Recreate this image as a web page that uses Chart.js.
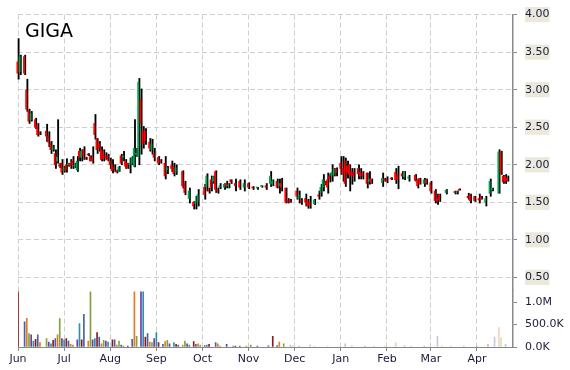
<!DOCTYPE html>
<html>
<head>
<meta charset="utf-8">
<script src="https://cdn.jsdelivr.net/npm/chart.js@4/dist/chart.umd.min.js"></script>
<style>
  html, body { margin: 0; padding: 0; background: #fff; }
  #wrap { position: relative; width: 570px; height: 370px; }
  #title { position: absolute; left: 25px; top: 21px; font: 19px/19px "DejaVu Sans", sans-serif; color: #000; }
</style>
</head>
<body>
<div id="wrap">
  <canvas id="chart" width="570" height="370"></canvas>
  <div id="title">GIGA</div>
</div>
<script>
// trading-day index where each month starts, and its label
const monthStart = [0, 21, 42, 63, 84, 105, 126, 147, 168, 188, 209];
const monthLabels = ['Jun', 'Jul', 'Aug', 'Sep', 'Oct', 'Nov', 'Dec', 'Jan', 'Feb', 'Mar', 'Apr'];
const priceTicks = [0.5, 1, 1.5, 2, 2.5, 3, 3.5, 4];
const volumeTicks = [0, 500000, 1000000];

// daily candles (day index, open, high, low, close)
const day = [0,1,3,4,5,6,8,9,10,13,14,15,16,17,18,19,20,21,22,23,24,25,26,27,28,29,30,31,32,33,34,35,36,37,38,39,40,41,
  42,43,44,45,46,47,48,49,50,51,52,53,54,55,56,57,58,60,61,62,64,65,67,68,70,71,72,75,76,78,80,81,82,85,86,87,88,89,90,
  91,92,94,95,96,97,99,101,103,105,107,109,111,113,115,116,118,119,120,122,123,124,127,128,129,131,132,133,135,137,138,
  139,140,141,142,143,144,145,147,148,149,150,151,152,153,155,156,157,159,160,161,166,167,168,170,172,173,175,176,178,
  181,182,183,185,186,188,190,191,192,195,199,200,201,205,206,208,210,211,213,215,216,219,220,221,222,223];
const open = [3.37,3.24,3.44,3.00,2.72,2.60,2.60,2.52,2.43,2.45,2.38,2.28,2.20,2.15,2.05,2.00,2.02,1.92,2.00,2.00,2.02,2.05,1.98,1.93,2.18,2.10,2.20,2.09,2.14,2.11,2.10,2.55,2.35,2.28,2.20,2.18,2.12,2.12,
  2.05,2.00,1.96,1.92,1.91,2.12,2.10,2.05,2.02,2.00,2.02,1.98,2.14,2.11,2.87,2.45,2.45,2.30,2.20,2.15,2.10,2.05,2.02,1.93,1.99,1.98,1.90,1.91,1.75,1.55,1.50,1.48,1.50,1.70,1.70,1.67,1.80,1.78,1.91,
  1.67,1.70,1.70,1.75,1.72,1.80,1.75,1.78,1.70,1.75,1.70,1.69,1.71,1.72,1.75,1.74,1.78,1.72,1.75,1.69,1.52,1.53,1.65,1.55,1.52,1.55,1.52,1.50,1.48,1.60,1.63,
  1.70,1.76,1.80,1.85,1.85,1.87,1.94,2.02,1.95,2.05,1.98,2.00,1.91,1.90,1.95,1.90,1.88,1.89,1.78,1.81,1.76,1.81,1.80,1.82,1.90,1.87,1.88,1.84,1.82,
  1.86,1.80,1.82,1.75,1.80,1.76,1.65,1.55,1.60,1.63,1.64,1.63,1.67,1.58,1.60,1.58,1.55,1.57,1.50,1.62,1.67,1.62,2.17,1.85,1.85,1.82];
const high = [3.68,3.46,3.46,3.14,2.74,2.71,2.62,2.55,2.44,2.54,2.44,2.31,2.26,2.20,2.60,2.02,2.07,1.98,2.08,2.02,2.07,2.11,2.02,2.11,2.22,2.20,2.24,2.10,2.15,2.12,2.24,2.67,2.35,2.31,2.24,2.20,2.16,2.14,
  2.09,2.07,2.00,1.93,1.98,2.14,2.18,2.07,2.02,2.09,2.11,2.60,2.22,3.15,3.01,2.51,2.48,2.35,2.34,2.22,2.11,2.07,2.11,1.98,2.05,2.02,2.00,1.92,1.78,1.69,1.51,1.58,1.67,1.74,1.88,1.69,1.85,1.85,1.92,
  1.69,1.75,1.75,1.78,1.75,1.80,1.81,1.80,1.80,1.76,1.71,1.70,1.72,1.75,1.91,1.80,1.81,1.81,1.82,1.69,1.55,1.54,1.69,1.65,1.55,1.61,1.54,1.58,1.54,1.65,1.74,
  1.87,1.78,1.89,1.88,2.00,1.95,1.96,2.11,2.11,2.09,2.05,2.00,1.95,1.95,2.00,1.95,1.91,1.89,1.91,1.81,1.89,1.82,1.84,1.83,1.95,1.98,1.91,1.91,1.86,
  1.87,1.81,1.82,1.82,1.81,1.78,1.67,1.61,1.61,1.67,1.65,1.65,1.68,1.62,1.61,1.58,1.61,1.58,1.58,1.81,1.69,2.20,2.18,1.86,1.87,1.85];
const low = [3.14,3.20,3.20,2.71,2.55,2.58,2.48,2.38,2.40,2.31,2.24,2.15,2.18,1.95,2.02,1.96,1.87,1.90,1.90,1.98,1.95,1.95,1.96,1.91,2.05,2.05,2.07,2.07,2.12,2.05,2.02,2.34,2.15,2.18,2.05,2.05,2.07,2.05,
  1.95,1.89,1.91,1.89,1.91,2.00,2.05,1.95,1.95,1.89,2.00,1.97,2.11,2.00,2.14,2.22,2.27,2.18,2.14,2.05,2.00,2.02,1.81,1.88,1.91,1.85,1.87,1.69,1.60,1.49,1.41,1.41,1.45,1.54,1.65,1.62,1.65,1.75,1.63,
  1.62,1.68,1.67,1.69,1.69,1.75,1.65,1.67,1.65,1.68,1.67,1.67,1.70,1.67,1.71,1.72,1.69,1.62,1.65,1.49,1.49,1.50,1.54,1.49,1.47,1.45,1.42,1.42,1.47,1.54,1.58,
  1.65,1.73,1.62,1.77,1.78,1.85,1.85,1.87,1.78,1.71,1.82,1.65,1.74,1.78,1.81,1.81,1.81,1.69,1.74,1.75,1.71,1.78,1.76,1.80,1.75,1.68,1.81,1.80,1.78,
  1.78,1.69,1.74,1.71,1.74,1.62,1.49,1.47,1.51,1.61,1.61,1.61,1.66,1.54,1.49,1.51,1.49,1.54,1.45,1.58,1.65,1.62,1.87,1.75,1.75,1.78];
const close = [3.22,3.44,3.22,2.74,2.58,2.68,2.50,2.40,2.41,2.38,2.30,2.20,2.24,2.00,2.10,1.98,1.90,1.96,1.93,2.00,1.98,2.00,2.00,2.05,2.10,2.18,2.12,2.08,2.13,2.05,2.05,2.40,2.20,2.22,2.07,2.08,2.10,2.06,
  2.00,1.92,1.95,1.90,1.97,2.02,2.12,1.98,1.96,2.02,2.10,2.22,2.15,3.10,2.55,2.28,2.32,2.22,2.28,2.10,2.02,2.04,1.85,1.96,1.95,1.88,1.96,1.72,1.63,1.65,1.45,1.50,1.60,1.60,1.85,1.65,1.70,1.84,1.67,
  1.65,1.72,1.74,1.72,1.73,1.77,1.72,1.70,1.75,1.70,1.69,1.69,1.71,1.70,1.85,1.78,1.70,1.75,1.70,1.50,1.50,1.51,1.58,1.60,1.50,1.50,1.45,1.46,1.53,1.58,1.70,
  1.80,1.74,1.70,1.80,1.90,1.94,1.90,1.95,1.88,1.75,1.90,1.87,1.85,1.85,1.88,1.85,1.85,1.75,1.81,1.76,1.82,1.79,1.78,1.81,1.80,1.80,1.85,1.90,1.84,
  1.79,1.72,1.75,1.80,1.76,1.65,1.52,1.52,1.53,1.66,1.63,1.64,1.66,1.56,1.52,1.52,1.53,1.55,1.55,1.78,1.68,2.17,1.88,1.77,1.78,1.79];

// daily volume (day index, shares)
const volDay = [0,3,4,5,6,7,8,9,10,13,14,15,16,17,18,19,20,21,22,23,24,25,27,28,29,30,32,33,34,35,36,37,38,39,40,41,43,44,45,46,47,48,50,
  52,53,54,56,57,58,59,60,61,62,63,64,66,67,68,69,71,72,73,75,76,77,78,80,81,82,83,85,86,87,90,91,92,95,98,99,101,104,106,109,114,116,118,119,121,
  124,125,128,133,135,141,149,152,158,162,167,172,176,179,185,191,193,197,203,209,214,217,219,220,222];
const volume = [1230000,560000,640000,300000,270000,130000,170000,270000,100000,190000,110000,70000,150000,190000,270000,630000,190000,160000,190000,130000,60000,40000,160000,520000,160000,730000,130000,1230000,160000,190000,320000,220000,70000,150000,130000,110000,160000,160000,40000,130000,40000,20000,20000,
  170000,1230000,240000,1230000,1230000,220000,300000,110000,100000,190000,320000,100000,60000,120000,150000,70000,100000,60000,40000,40000,130000,70000,40000,120000,60000,70000,40000,30000,40000,60000,100000,70000,20000,60000,20000,20000,20000,20000,40000,20000,30000,240000,30000,110000,70000,
  40000,30000,20000,40000,20000,20000,70000,30000,20000,20000,20000,100000,30000,20000,20000,240000,20000,20000,20000,20000,60000,220000,430000,210000,60000];

const UP = '#00a650', DOWN = '#ff0000';
const volPalette = ['#8b1a1a', '#4b5fa5', '#e07b1f', '#7ea23c', '#6b3fa0', '#2f8fae'];
const fadeFrom = 122;

const tickFont = { family: 'DejaVu Sans', size: 11 };
const tickColor = '#1a1a3c';
const axisGray = '#888888';
const gridGray = '#cfcfcf';

new Chart(document.getElementById('chart'), {
  type: 'bar',
  data: {
    datasets: [
      {
        label: 'range',
        data: day.map((d, i) => ({ x: d, y: [low[i], high[i]] })),
        backgroundColor: '#000',
        barThickness: 1.2,
        yAxisID: 'y',
        order: 1,
        clip: false
      },
      {
        label: 'body',
        data: day.map((d, i) => ({ x: d, y: [open[i], close[i]] })),
        backgroundColor: ctx => close[ctx.dataIndex] >= open[ctx.dataIndex] ? UP : DOWN,
        barThickness: 1.2,
        minBarLength: 1,
        yAxisID: 'y',
        order: 0,
        clip: false
      },
      {
        label: 'volume',
        data: volDay.map((d, i) => ({ x: d, y: volume[i] })),
        backgroundColor: ctx => {
          const c = volPalette[ctx.dataIndex % volPalette.length];
          return volDay[ctx.dataIndex] >= fadeFrom ? c + '55' : c;
        },
        barThickness: 1,
        grouped: false,
        yAxisID: 'vol',
        order: 2
      }
    ]
  },
  options: {
    responsive: false,
    animation: false,
    layout: { padding: { left: 18, top: 13, right: 0, bottom: 0 } },
    plugins: { legend: { display: false }, tooltip: { enabled: false } },
    scales: {
      y: {
        type: 'linear',
        position: 'right',
        stack: 'pv',
        stackWeight: 276.75,
        weight: 0,
        min: 0.32,
        max: 4,
        afterBuildTicks: s => { s.ticks = priceTicks.map(v => ({ value: v })); },
        afterFit: s => { s.width = 57; },
        ticks: {
          callback: v => Number(v).toFixed(2),
          autoSkip: false,
          font: tickFont,
          color: tickColor,
          padding: 8,
          showLabelBackdrop: true,
          backdropColor: '#ebe9dc',
          backdropPadding: { top: 1, bottom: 1, left: 0, right: 0 }
        },
        grid: { color: gridGray, tickColor: axisGray, tickLength: 4 },
        border: { color: axisGray, width: 1.5, dash: [5, 3] }
      },
      vol: {
        type: 'linear',
        position: 'right',
        stack: 'pv',
        stackWeight: 56.25,
        weight: 1,
        min: 0,
        max: 1250000,
        afterBuildTicks: s => { s.ticks = volumeTicks.map(v => ({ value: v })); },
        afterFit: s => { s.width = 57; },
        ticks: {
          callback: v => v >= 1000000 ? (v / 1000000).toFixed(1) + 'M' : (v / 1000).toFixed(1) + 'K',
          autoSkip: false,
          font: tickFont,
          color: tickColor,
          padding: 8
        },
        grid: { drawOnChartArea: false, tickColor: axisGray, tickLength: 4 },
        border: { color: axisGray, width: 1.5 }
      },
      x: {
        type: 'linear',
        min: 0,
        max: 225.4,
        offset: false,
        afterBuildTicks: s => { s.ticks = monthStart.map(v => ({ value: v })); },
        afterFit: s => { s.height = 23; },
        ticks: {
          callback: (v, i) => monthLabels[i],
          autoSkip: false,
          maxRotation: 0,
          font: tickFont,
          color: tickColor,
          padding: 2
        },
        grid: { offset: false, color: gridGray, tickColor: axisGray, tickLength: 4 },
        border: { color: axisGray, width: 1, dash: [5, 3] }
      }
    }
  }
});
</script>
</body>
</html>
